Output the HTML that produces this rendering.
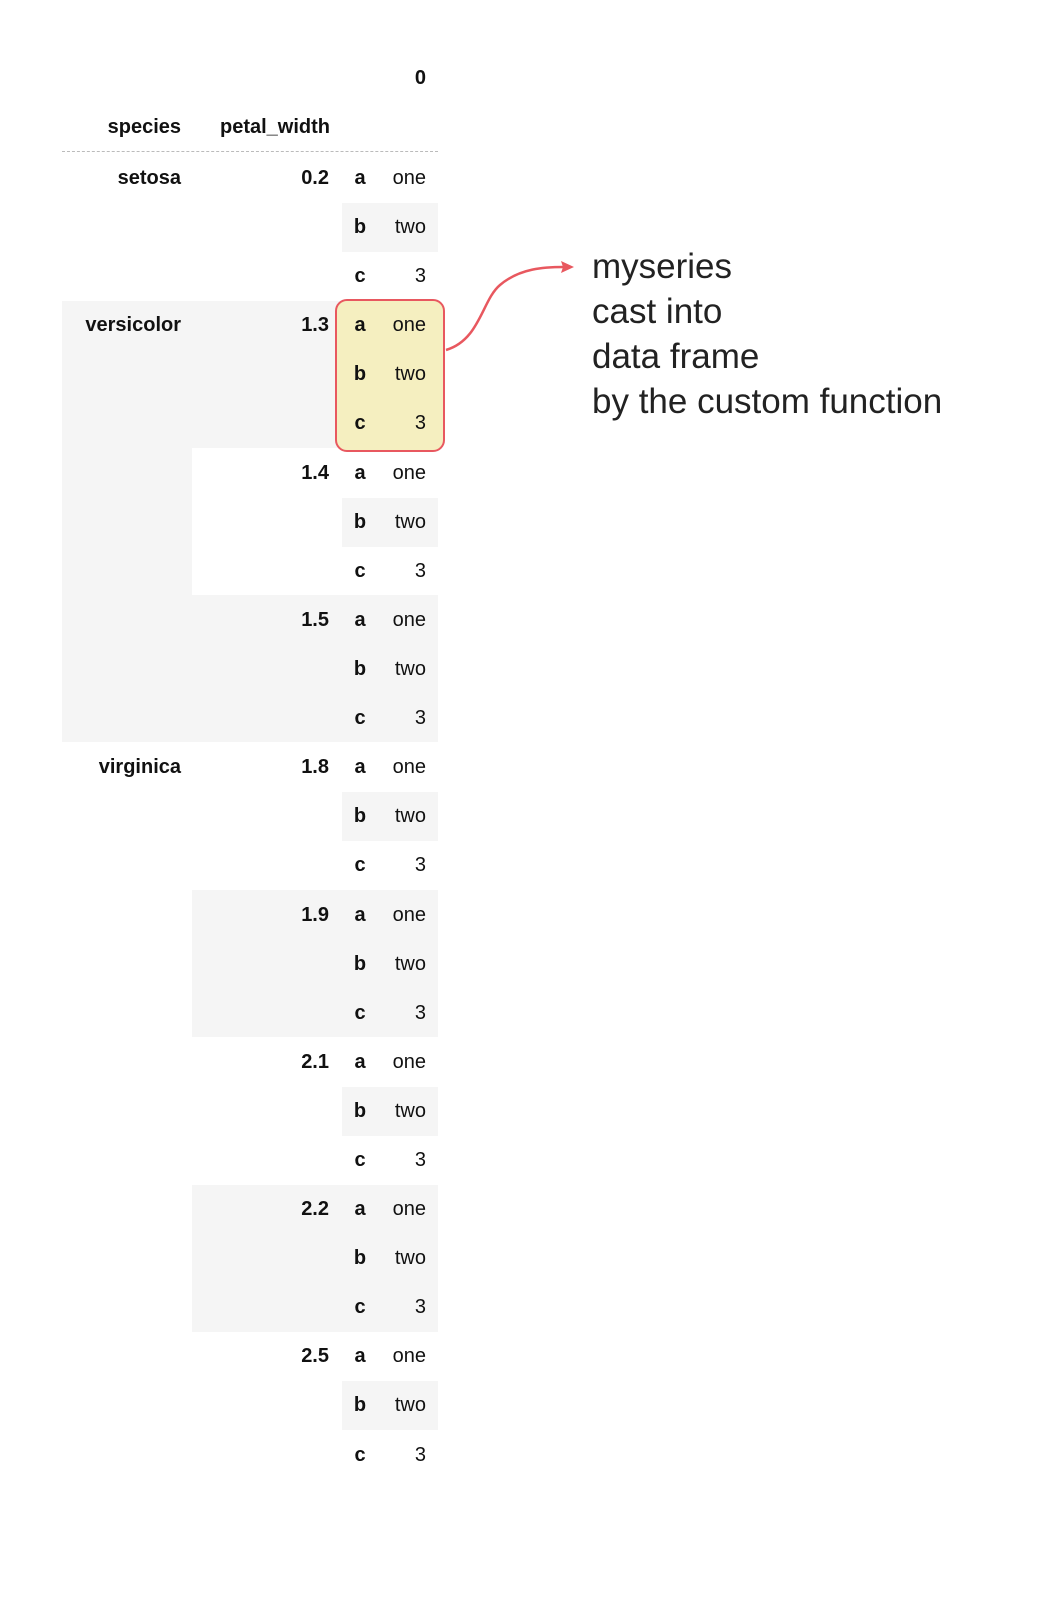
<!DOCTYPE html>
<html><head><meta charset="utf-8"><style>
body{margin:0;width:1041px;height:1600px;background:#fff;position:relative;font-family:"Liberation Sans",Arial,sans-serif;color:#111;overflow:hidden}
.bg{position:absolute;background:#f5f5f5}
.r{position:absolute;left:0;width:440px;height:49px;line-height:49px;font-size:20px}
.r span{position:absolute;top:0}
.s{left:0;width:181px;text-align:right;font-weight:bold}
.p{left:192px;width:137px;text-align:right;font-weight:bold}
.l{left:342px;width:36px;text-align:center;font-weight:bold}
.v{left:378px;width:48px;text-align:right}
.b{position:absolute;left:342px;width:96px;height:49px;background:#f5f5f5}
.ann{position:absolute;left:592px;font-size:35px;color:#222;line-height:45px}
</style></head><body>
<div class="bg" style="left:62px;top:301px;width:376px;height:441px"></div>
<div style="position:absolute;left:192px;top:448px;width:246px;height:147px;background:#fff"></div>
<div class="bg" style="left:192px;top:890px;width:246px;height:147px"></div>
<div class="bg" style="left:192px;top:1185px;width:246px;height:147px"></div>
<div class="b" style="top:203px"></div>
<div class="b" style="top:350px"></div>
<div class="b" style="top:498px"></div>
<div class="b" style="top:645px"></div>
<div class="b" style="top:792px"></div>
<div class="b" style="top:940px"></div>
<div class="b" style="top:1087px"></div>
<div class="b" style="top:1234px"></div>
<div class="b" style="top:1381px"></div>
<div style="position:absolute;left:62px;top:151px;width:376px;border-top:1px dashed #bbb"></div>
<div style="position:absolute;left:335px;top:299px;width:106px;height:149px;border:2.5px solid #e8585f;border-radius:12px;background:#f5efc0"></div>
<svg style="position:absolute;left:0;top:0" width="1041" height="1600"><path d="M446 350 C480 340 482 300 500 285 C520 268 545 267 564 267" fill="none" stroke="#e8585f" stroke-width="2.5"/><polygon points="574,267 561,261 563,267 561,273" fill="#e8585f"/></svg>
<div class="r" style="top:54px"><span class="v" style="font-weight:bold">0</span></div>
<div class="r" style="top:103px"><span class="s">species</span><span class="p" style="left:192px;width:138px">petal_width</span></div>
<div class="r" style="top:154px"><span class="s">setosa</span><span class="p">0.2</span><span class="l">a</span><span class="v">one</span></div>
<div class="r" style="top:203px"><span class="l">b</span><span class="v">two</span></div>
<div class="r" style="top:252px"><span class="l">c</span><span class="v">3</span></div>
<div class="r" style="top:301px"><span class="s">versicolor</span><span class="p">1.3</span><span class="l">a</span><span class="v">one</span></div>
<div class="r" style="top:350px"><span class="l">b</span><span class="v">two</span></div>
<div class="r" style="top:399px"><span class="l">c</span><span class="v">3</span></div>
<div class="r" style="top:449px"><span class="p">1.4</span><span class="l">a</span><span class="v">one</span></div>
<div class="r" style="top:498px"><span class="l">b</span><span class="v">two</span></div>
<div class="r" style="top:547px"><span class="l">c</span><span class="v">3</span></div>
<div class="r" style="top:596px"><span class="p">1.5</span><span class="l">a</span><span class="v">one</span></div>
<div class="r" style="top:645px"><span class="l">b</span><span class="v">two</span></div>
<div class="r" style="top:694px"><span class="l">c</span><span class="v">3</span></div>
<div class="r" style="top:743px"><span class="s">virginica</span><span class="p">1.8</span><span class="l">a</span><span class="v">one</span></div>
<div class="r" style="top:792px"><span class="l">b</span><span class="v">two</span></div>
<div class="r" style="top:841px"><span class="l">c</span><span class="v">3</span></div>
<div class="r" style="top:891px"><span class="p">1.9</span><span class="l">a</span><span class="v">one</span></div>
<div class="r" style="top:940px"><span class="l">b</span><span class="v">two</span></div>
<div class="r" style="top:989px"><span class="l">c</span><span class="v">3</span></div>
<div class="r" style="top:1038px"><span class="p">2.1</span><span class="l">a</span><span class="v">one</span></div>
<div class="r" style="top:1087px"><span class="l">b</span><span class="v">two</span></div>
<div class="r" style="top:1136px"><span class="l">c</span><span class="v">3</span></div>
<div class="r" style="top:1185px"><span class="p">2.2</span><span class="l">a</span><span class="v">one</span></div>
<div class="r" style="top:1234px"><span class="l">b</span><span class="v">two</span></div>
<div class="r" style="top:1283px"><span class="l">c</span><span class="v">3</span></div>
<div class="r" style="top:1332px"><span class="p">2.5</span><span class="l">a</span><span class="v">one</span></div>
<div class="r" style="top:1381px"><span class="l">b</span><span class="v">two</span></div>
<div class="r" style="top:1431px"><span class="l">c</span><span class="v">3</span></div>
<div class="ann" style="top:244px">myseries</div>
<div class="ann" style="top:289px">cast into</div>
<div class="ann" style="top:334px">data frame</div>
<div class="ann" style="top:379px">by the custom function</div>
</body></html>
